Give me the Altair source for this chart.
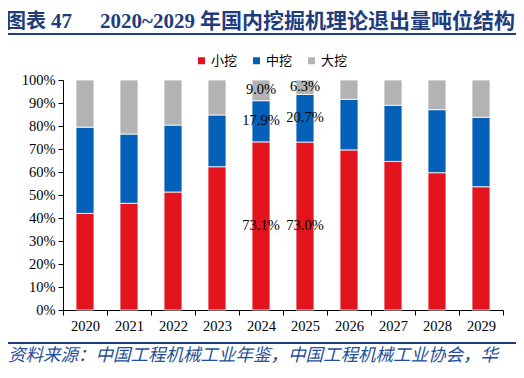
import altair as alt
import pandas as pd

years = ["2020", "2021", "2022", "2023", "2024", "2025", "2026", "2027", "2028", "2029"]
small = [42.0, 46.4, 51.3, 62.3, 73.1, 73.0, 69.6, 64.6, 59.7, 53.6]
medium = [37.5, 30.1, 29.1, 22.5, 17.9, 20.7, 22.0, 24.4, 27.4, 30.2]
large = [20.5, 23.5, 19.6, 15.2, 9.0, 6.3, 8.4, 11.0, 12.9, 16.2]
series = ["小挖", "中挖", "大挖"]
colors = ["#E3141E", "#0560B8", "#B3B3B3"]
label_years = ["2024", "2025"]
y_ticks = [0, 0.1, 0.2, 0.3, 0.4, 0.5, 0.6, 0.7, 0.8, 0.9, 1.0]

rows = []
for i, y in enumerate(years):
    for k, (name, vals) in enumerate(zip(series, [small, medium, large])):
        rows.append({"year": y, "type": name, "order": k, "value": vals[i] / 100.0})
df = pd.DataFrame(rows)

lab_rows = []
for i, y in enumerate(years):
    if y not in label_years:
        continue
    base = 0.0
    for name, vals in zip(series, [small, medium, large]):
        v = vals[i] / 100.0
        lab_rows.append({"year": y, "mid": base + v / 2, "text": f"{vals[i]:.1f}%"})
        base += v
lab = pd.DataFrame(lab_rows)

serif = "Liberation Serif"
cjk = "Noto Sans CJK SC"
navy = "#1F3C7C"

xscale = alt.Scale(domain=years, paddingInner=0, paddingOuter=0)
yscale = alt.Scale(domain=[0, 1], nice=False)
xaxis = alt.Axis(labelAngle=0, tickBand="extent", labelFont=serif,
                 labelFontSize=14.5, labelColor="#000", domainColor="#000",
                 tickColor="#000", tickSize=5, labelPadding=4)
yaxis = alt.Axis(format=".0%", values=y_ticks, tickCount=11,
                 labelOverlap=False, grid=False, labelFont=serif,
                 labelFontSize=14.5, labelColor="#000", domainColor="#000",
                 tickColor="#000", tickSize=5, labelPadding=3)

bars = alt.Chart(df).mark_bar(size=18, stroke="white", strokeWidth=0.8).encode(
    x=alt.X("year:N", sort=years, title=None, scale=xscale, axis=xaxis),
    y=alt.Y("value:Q", stack="zero", title=None, scale=yscale, axis=yaxis),
    color=alt.Color("type:N", sort=series,
                    scale=alt.Scale(domain=series, range=colors),
                    legend=alt.Legend(title=None, orient="none", direction="horizontal",
                                      legendX=132, legendY=-26, symbolType="square",
                                      symbolSize=49, symbolStrokeWidth=0,
                                      labelFont=cjk, labelFontSize=13, labelColor="#000",
                                      labelOffset=3, columnPadding=12)),
    order=alt.Order("order:Q", sort="ascending"),
)

labels = alt.Chart(lab).mark_text(font=serif, fontSize=14.5, color="#000").encode(
    x=alt.X("year:N", sort=years, title=None, scale=xscale, axis=xaxis),
    y=alt.Y("mid:Q", title=None, scale=yscale, axis=yaxis),
    text="text:N",
)

one = alt.Data(values=[{}])

def txt(x, y, s, **kw):
    return alt.Chart(one).mark_text(align="left", baseline="middle", **kw).encode(
        x=alt.value(x), y=alt.value(y), text=alt.value(s))

def rule(x1, x2, y, color, w):
    return alt.Chart(one).mark_rule(color=color, strokeWidth=w).encode(
        x=alt.value(x1), x2=alt.value(x2), y=alt.value(y))

t1 = txt(-57, -58, "图表", font=cjk, fontSize=20, fontWeight="bold", color=navy)
t1b = txt(-12, -58, "47", font=serif, fontSize=21, fontWeight="bold", color=navy)
t2 = txt(37, -58, "2020~2029", font=serif, fontSize=21, fontWeight="bold", color=navy)
t3 = txt(137, -58, "年国内挖掘机理论退出量吨位结构", font=cjk, fontSize=21, fontWeight="bold", color=navy)
l1 = rule(-57, 454, -46, navy, 2)
l2 = rule(-57, 454, 263, navy, 2)
src = txt(-55, 276, "资料来源：中国工程机械工业年鉴，中国工程机械工业协会，华",
          font=cjk, fontSize=17.5, fontStyle="italic", color="#1F4E9A")

chart = alt.layer(bars, labels, t1, t1b, t2, t3, l1, l2, src).properties(
    width=440, height=230,
    autosize=alt.AutoSizeParams(type="none"),
    padding={"left": 55, "top": 72, "right": 13, "bottom": 60},
).configure_view(stroke=None)

chart.save("out.html", embed_options={"renderer": "svg", "actions": False})
